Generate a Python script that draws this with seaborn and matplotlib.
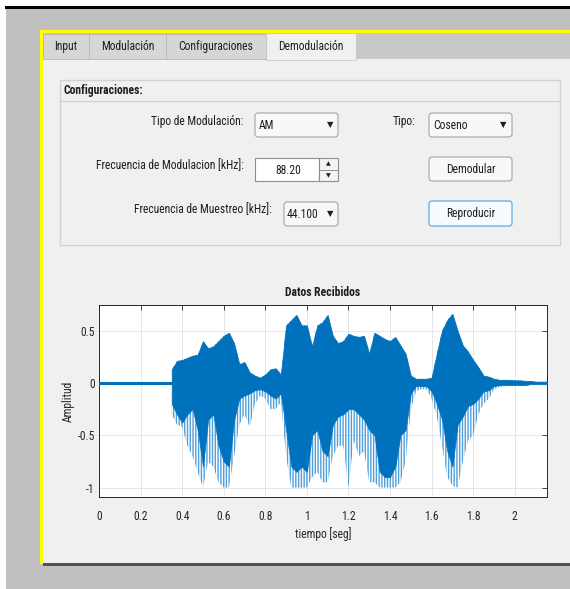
import numpy as np
import pandas as pd
import matplotlib
matplotlib.use("Agg")
import matplotlib.pyplot as plt
import seaborn as sns
from matplotlib.patches import Rectangle, FancyBboxPatch

# ---------------- data ----------------
t = [0.35, 0.375, 0.40, 0.425, 0.45, 0.475, 0.50, 0.525, 0.55, 0.575, 0.60, 0.625,
     0.65, 0.675, 0.70, 0.725, 0.75, 0.775, 0.80, 0.825, 0.85, 0.875, 0.90, 0.925,
     0.95, 0.975, 1.0, 1.025, 1.05, 1.075, 1.1, 1.125, 1.15, 1.175, 1.2, 1.225,
     1.25, 1.275, 1.3, 1.325, 1.35, 1.375, 1.4, 1.425, 1.45, 1.475, 1.5, 1.525,
     1.55, 1.575, 1.6, 1.625, 1.65, 1.675, 1.7, 1.725, 1.75, 1.775, 1.8, 1.825,
     1.85, 1.875, 1.9, 1.925, 1.95, 1.975, 2.0, 2.025, 2.05, 2.075, 2.1, 2.125, 2.155]
upper = [0.13, 0.21, 0.22, 0.24, 0.26, 0.27, 0.40, 0.33, 0.35, 0.40, 0.45, 0.48,
         0.38, 0.18, 0.20, 0.10, 0.07, 0.05, 0.08, 0.13, 0.14, 0.08, 0.55, 0.60,
         0.65, 0.55, 0.55, 0.35, 0.55, 0.58, 0.65, 0.45, 0.38, 0.40, 0.47, 0.45,
         0.44, 0.45, 0.28, 0.48, 0.45, 0.42, 0.40, 0.44, 0.36, 0.28, 0.07, 0.04,
         0.04, 0.04, 0.05, 0.28, 0.50, 0.60, 0.66, 0.50, 0.36, 0.30, 0.22, 0.15,
         0.07, 0.06, 0.04, 0.03, 0.03, 0.03, 0.025, 0.025, 0.02, 0.02, 0.012, 0.012, 0.012]
lower_core = [-0.20, -0.30, -0.38, -0.30, -0.25, -0.45, -0.80, -0.35, -0.30, -0.60, -0.75, -0.80,
              -0.35, -0.15, -0.12, -0.10, -0.07, -0.06, -0.08, -0.12, -0.15, -0.10, -0.45, -0.80,
              -0.85, -0.80, -0.85, -0.50, -0.45, -0.65, -0.70, -0.40, -0.32, -0.30, -0.25, -0.25,
              -0.30, -0.35, -0.45, -0.50, -0.85, -0.90, -0.90, -0.80, -0.50, -0.45, -0.10, -0.03,
              -0.03, -0.03, -0.08, -0.20, -0.35, -0.65, -0.80, -0.40, -0.32, -0.22, -0.20, -0.15,
              -0.08, -0.07, -0.03, -0.02, -0.02, -0.02, -0.02, -0.02, -0.02, -0.012, -0.012, -0.012, -0.012]
lower_peak = [-0.30, -0.40, -0.42, -0.60, -0.70, -0.85, -1.0, -0.75, -0.80, -0.95, -1.0, -1.0,
              -0.70, -0.40, -0.30, -0.42, -0.20, -0.12, -0.15, -0.25, -0.25, -0.18, -0.70, -1.0,
              -1.0, -1.0, -1.0, -0.90, -0.85, -0.95, -0.95, -0.70, -0.60, -0.60, -1.0, -0.55,
              -0.70, -0.65, -0.95, -0.95, -1.0, -1.0, -1.0, -1.0, -0.95, -0.75, -0.25, -0.08,
              -0.06, -0.06, -0.15, -0.32, -0.60, -0.90, -0.98, -1.0, -0.75, -0.55, -0.50, -0.30,
              -0.20, -0.15, -0.06, -0.04, -0.03, -0.03, -0.03, -0.03, -0.03, -0.015, -0.012, -0.012, -0.012]
lead_t = [0.0, 0.35]
lead_a = [0.0, 0.0]

xticks = [0, 0.2, 0.4, 0.6, 0.8, 1.0, 1.2, 1.4, 1.6, 1.8, 2.0]
xtick_labels = ["0", "0.2", "0.4", "0.6", "0.8", "1", "1.2", "1.4", "1.6", "1.8", "2"]
yticks = [-1, -0.5, 0, 0.5]
ytick_labels = ["-1", "-0.5", "0", "0.5"]

tab_names = ["Input", "Modulación", "Configuraciones", "Demodulación"]
plot_title = "Datos Recibidos"
x_label = "tiempo [seg]"
y_label = "Amplitud"

# ---------------- style ----------------
sns.set_style("white")
plt.rcParams["font.family"] = ["Roboto Condensed", "Liberation Sans", "DejaVu Sans"]
plt.rcParams["hatch.linewidth"] = 1.0

W, H = 570, 589
fig = plt.figure(figsize=(W / 100, H / 100), dpi=100)
fig.patch.set_facecolor("#c0c0c0")

bg = fig.add_axes([0, 0, 1, 1])
bg.set_xlim(0, W)
bg.set_ylim(H, 0)
bg.axis("off")


def rect(x, y, w, h, fc, ec="none", lw=0.0, z=1):
    bg.add_patch(Rectangle((x, y), w, h, facecolor=fc, edgecolor=ec, linewidth=lw, zorder=z))


def rbox(x, y, w, h, fc, ec, lw=0.72, z=3):
    bg.add_patch(FancyBboxPatch((x, y), w, h, boxstyle="round,pad=0,rounding_size=3",
                                facecolor=fc, edgecolor=ec, linewidth=lw, zorder=z))


TXT = "#1e1e1e"
FS = 8.4
ARW = ["DejaVu Sans"]

# outer frame
rect(0, 0, W, 6, "white", z=1)
rect(0, 0, 6, H, "white", z=1)
rect(5, 6, W - 5, 3, "black", z=2)
rect(43, 33, W - 43, 26, "#c8c8c8", z=1)
rect(40, 30, W - 40, 3, "#ffff00", z=5)
rect(40, 30, 3, 534, "#ffff00", z=5)
rect(43, 59, W - 43, 505, "#f0f0f0", z=1)
rect(43, 563, W - 43, 3, "#4b525a", z=2)

# tabs
tab_edges = [43, 89, 166, 266, 356]
for i, name in enumerate(tab_names):
    x0, x1 = tab_edges[i], tab_edges[i + 1]
    if i == 3:
        rect(x0, 33, x1 - x0, 27, "#f0f0f0", ec="#c4c4c4", lw=0.5, z=2)
    else:
        rect(x0, 34, x1 - x0, 25, "#d6d6d6", ec="#b8b8b8", lw=0.6, z=2)
    bg.text((x0 + x1) / 2, 46.5, name, ha="center", va="center", fontsize=FS, color=TXT, zorder=6)

# configuration panel
rect(60, 80, 500, 165, "#f0f0f0", ec="#d2d2d2", lw=1.0, z=2)
bg.plot([60, 560], [101, 101], color="#d2d2d2", lw=1.0, zorder=3)
bg.text(63, 90.5, "Configuraciones:", ha="left", va="center", fontsize=FS,
        fontweight="bold", color=TXT, zorder=6)

# labels
bg.text(243, 121.5, "Tipo de Modulación:", ha="right", va="center", fontsize=FS, color=TXT, zorder=6)
bg.text(244, 166, "Frecuencia de Modulacion [kHz]:", ha="right", va="center", fontsize=FS, color=TXT, zorder=6)
bg.text(272, 210, "Frecuencia de Muestreo [kHz]:", ha="right", va="center", fontsize=FS, color=TXT, zorder=6)
bg.text(393, 121, "Tipo:", ha="left", va="center", fontsize=FS, color=TXT, zorder=6)

# dropdowns
rbox(255, 113, 83, 24, "#f8f8f8", "#9c9c9c")
bg.text(259, 125.5, "AM", ha="left", va="center", fontsize=FS, color=TXT, zorder=6)
bg.text(330, 125, "▼", ha="center", va="center", fontsize=6, color=TXT, zorder=6, family=ARW)

rbox(429, 113, 83, 24, "#f8f8f8", "#9c9c9c")
bg.text(433, 125.5, "Coseno", ha="left", va="center", fontsize=FS, color=TXT, zorder=6)
bg.text(503, 125, "▼", ha="center", va="center", fontsize=6, color=TXT, zorder=6, family=ARW)

rbox(284, 202, 54, 24, "#f8f8f8", "#9c9c9c")
bg.text(287, 214.5, "44.100", ha="left", va="center", fontsize=FS, color=TXT, zorder=6)
bg.text(330, 214, "▼", ha="center", va="center", fontsize=6, color=TXT, zorder=6, family=ARW)

# numeric edit with spinner
rect(255, 158, 64, 23, "white", ec="#8f8f8f", lw=0.8, z=3)
rect(319, 158, 19, 23, "#f4f4f4", ec="#8f8f8f", lw=0.8, z=3)
bg.plot([319, 338], [169.5, 169.5], color="#8f8f8f", lw=0.7, zorder=4)
bg.text(288, 170.5, "88.20", ha="center", va="center", fontsize=FS, color=TXT, zorder=6)
bg.text(328.5, 164, "▲", ha="center", va="center", fontsize=4.5, color=TXT, zorder=6, family=ARW)
bg.text(328.5, 175.5, "▼", ha="center", va="center", fontsize=4.5, color=TXT, zorder=6, family=ARW)

# buttons
rbox(429, 157, 83, 24, "#f8f8f8", "#9c9c9c")
bg.text(470.5, 169.5, "Demodular", ha="center", va="center", fontsize=FS, color=TXT, zorder=6)
rbox(429, 201, 83, 25, "#f8fbfd", "#5aaee6", lw=0.9)
bg.text(470.5, 213.5, "Reproducir", ha="center", va="center", fontsize=FS, color=TXT, zorder=6)

# ---------------- the chart ----------------
ax_l, ax_r, ax_t, ax_b = 99, 547, 305, 497
ax = fig.add_axes([ax_l / W, (H - ax_b) / H, (ax_r - ax_l) / W, (ax_b - ax_t) / H])
ax.set_facecolor("white")

df = pd.DataFrame({"t": t, "upper": upper, "lower_core": lower_core, "lower_peak": lower_peak})
blue = "#0072BD"
ax.fill_between(df["t"], df["lower_peak"], df["upper"], facecolor="none",
                edgecolor="#4f9fda", hatch="||||||", linewidth=0, zorder=2)
ax.fill_between(df["t"], df["lower_core"], df["upper"], color=blue, linewidth=0.5, zorder=3)
sns.lineplot(x=lead_t, y=lead_a, ax=ax, color=blue, linewidth=2.2, zorder=4)

ax.set_xlim(0, 2.155)
ax.set_ylim(-1.09, 0.745)
ax.set_xticks(xticks)
ax.set_xticklabels(xtick_labels)
ax.set_yticks(yticks)
ax.set_yticklabels(ytick_labels)
ax.grid(True, color="#e3e3e3", linewidth=0.6)
ax.set_axisbelow(True)
ax.tick_params(direction="in", length=3.5, width=0.6, top=True, right=True,
               colors="#262626", labelsize=8.4)
ax.tick_params(axis="x", pad=9)
ax.tick_params(axis="y", pad=3)
for s in ax.spines.values():
    s.set_color("#262626")
    s.set_linewidth(0.7)

ax.set_title(plot_title, fontsize=FS, fontweight="bold", color="#1e1e1e",
             y=1 + 12 / 192, va="center", pad=0)
ax.set_xlabel(x_label, fontsize=FS, color="#262626")
ax.xaxis.set_label_coords(0.5, -(534 - ax_b) / 192)
ax.xaxis.label.set_va("center")
ax.set_ylabel(y_label, fontsize=FS, color="#262626")
ax.yaxis.set_label_coords(-(ax_l - 68) / 448, 0.5)
ax.yaxis.label.set_va("center")

fig.savefig("out.png", dpi=100, facecolor=fig.get_facecolor())
